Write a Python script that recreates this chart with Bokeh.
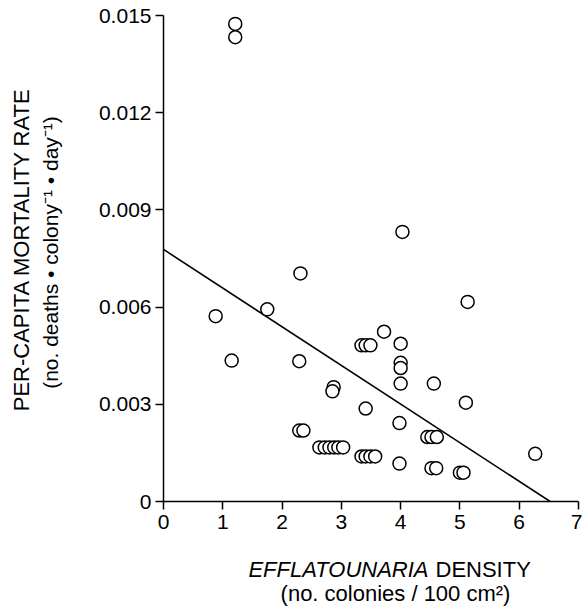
import math
from bokeh.plotting import figure
from bokeh.models import Label, Range1d, FixedTicker, CustomJSTickFormatter, ColumnDataSource
from bokeh.embed import file_html
from bokeh.resources import INLINE

# ---- data ----
density = [1.21, 1.21, 4.03, 2.31, 5.13, 1.75, 0.88, 3.72,
           3.34, 3.41, 3.49, 4.00, 4.00, 4.00, 1.15, 2.29,
           4.00, 4.56, 2.87, 2.85, 5.10, 3.41, 3.98, 2.29,
           2.36, 4.45, 4.52, 4.61,
           2.63, 2.72, 2.80, 2.88, 2.95, 3.03,
           3.34, 3.41, 3.49, 3.57,
           6.27, 3.98, 4.52, 4.60, 5.00, 5.06]
mortality = [0.01474, 0.01433, 0.00832, 0.00704, 0.00616, 0.00593, 0.00572, 0.00524,
             0.00482, 0.00482, 0.00482, 0.00487, 0.00428, 0.00412, 0.00435, 0.00433,
             0.00364, 0.00364, 0.00353, 0.00340, 0.00305, 0.00287, 0.00242, 0.00219,
             0.00219, 0.00199, 0.00199, 0.00199,
             0.00167, 0.00167, 0.00167, 0.00167, 0.00167, 0.00167,
             0.00139, 0.00139, 0.00139, 0.00139,
             0.00147, 0.00117, 0.00103, 0.00103, 0.00089, 0.00089]

# regression line parameters
intercept = 0.00778
slope = -0.001193

x_ticks = [0, 1, 2, 3, 4, 5, 6, 7]
y_ticks = [0, 0.003, 0.006, 0.009, 0.012, 0.015]

y_label_1 = "PER-CAPITA MORTALITY RATE"
y_label_2 = "(no. deaths \u2022 colony\u207b\u00b9 \u2022 day\u207b\u00b9)"
x_label_italic = "EFFLATOUNARIA"
x_label_rest = "DENSITY"
x_label_2 = "(no. colonies / 100 cm\u00b2)"

FONT = "Liberation Sans"
W, H = 582, 607
L, R, T, B = 163, 4, 15, 106
X0, X1 = 0, 7
Y0, Y1 = 0, 0.015

p = figure(width=W, height=H, output_backend="svg", toolbar_location=None,
           x_range=Range1d(X0, X1), y_range=Range1d(Y0, Y1),
           min_border_left=L, min_border_right=R, min_border_top=T, min_border_bottom=B)
p.outline_line_color = None
p.xgrid.visible = False
p.ygrid.visible = False
p.background_fill_color = "white"
p.border_fill_color = "white"

for ax in (p.xaxis[0], p.yaxis[0]):
    ax.axis_line_width = 1.5
    ax.axis_line_color = "black"
    ax.major_tick_line_width = 1.5
    ax.major_tick_line_color = "black"
    ax.major_tick_out = 8
    ax.major_tick_in = 0
    ax.minor_tick_line_color = None
    ax.major_label_text_font = FONT
    ax.major_label_text_font_size = "21px"
    ax.major_label_text_color = "black"
    ax.axis_label = None

p.xaxis[0].ticker = FixedTicker(ticks=x_ticks)
p.yaxis[0].ticker = FixedTicker(ticks=y_ticks)
p.xaxis[0].major_label_standoff = 5
p.yaxis[0].major_label_standoff = 4
p.yaxis[0].formatter = CustomJSTickFormatter(code="return tick == 0 ? '0' : tick.toFixed(3);")

# regression line from x=0 to its x-intercept
x_end = -intercept / slope
p.line([0, x_end], [intercept, intercept + slope * x_end], line_color="black", line_width=1.6)

src = ColumnDataSource(dict(x=density, y=mortality))
p.scatter("x", "y", source=src, marker="circle", size=13, fill_color="white",
          line_color="black", line_width=1.5)

# axis titles: positions given in canvas pixels, converted to data units via the frame
frame_w = W - L - R
frame_h = H - T - B

def to_data(cx, cy):
    dx = X0 + (cx - L) / frame_w * (X1 - X0)
    dy = Y0 + (H - B - cy) / frame_h * (Y1 - Y0)
    return dx, dy

def add_label(place, cx, cy, text, angle=0.0, align="center", style="normal", size="22px"):
    dx, dy = to_data(cx, cy)
    p.add_layout(Label(x=dx, y=dy, text=text, angle=angle, text_align=align,
                       text_baseline="middle", text_font=FONT, text_font_size=size,
                       text_font_style=style, text_color="black"), place)

add_label("left", 21, 249, y_label_1, angle=math.pi / 2)
add_label("left", 50, 252, y_label_2, angle=math.pi / 2, size="21px")

split_x = 428
add_label("below", split_x, 569, x_label_italic, align="right", style="italic")
add_label("below", split_x + 7, 569, x_label_rest, align="left")
add_label("below", 395, 593, x_label_2)

open("out.html", "w").write(file_html(p, INLINE))
